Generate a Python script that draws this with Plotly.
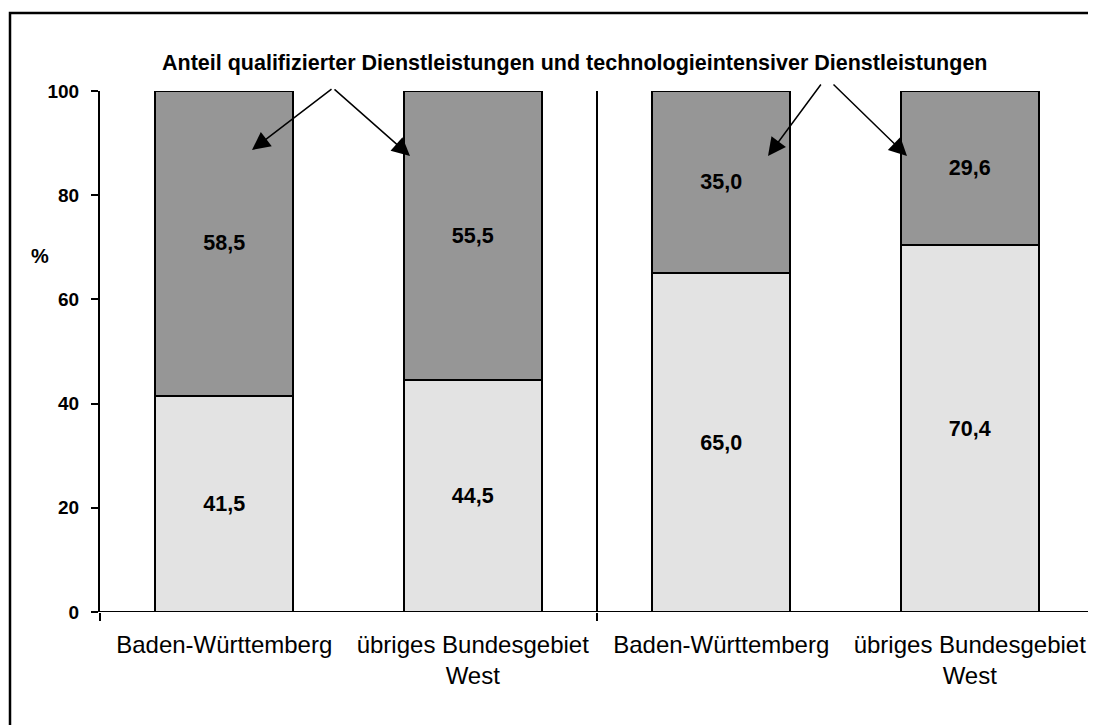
import plotly.graph_objects as go

categories = ["Baden-Württemberg", "übriges Bundesgebiet<br>West",
              "Baden-Württemberg", "übriges Bundesgebiet<br>West"]
lower_values = [41.5, 44.5, 65.0, 70.4]
upper_values = [58.5, 55.5, 35.0, 29.6]
y_ticks = [0, 20, 40, 60, 80, 100]
title_text = "Anteil qualifizierter Dienstleistungen und technologieintensiver Dienstleistungen"

W, H = 1096, 725
OFF = 8  # page body margin
L, R, T, B = 100 - OFF, 10, 91 - OFF, 725 - (612 - OFF)
pw, ph = W - L - R, H - T - B

def px(x):
    return (x - OFF - L) / pw

def py(y):
    return (H - B - (y - OFF)) / ph

xs = list(range(len(categories)))
FONT = "Arial, Liberation Sans, sans-serif"

fig = go.Figure()
for vals, col in [(lower_values, "#e3e3e3"), (upper_values, "#969696")]:
    fig.add_trace(go.Bar(x=xs, y=vals, marker=dict(color=col, line=dict(color="black", width=2)),
                         width=0.555, texttemplate="%{y:.1f}", textposition="inside",
                         insidetextanchor="middle",
                         textfont=dict(family=FONT, size=21.5, color="black", weight="bold"),
                         hoverinfo="skip"))

# group separators
for xv in [1.5, 3.5]:
    fig.add_shape(type="line", xref="x", yref="y", x0=xv, x1=xv, y0=0, y1=100,
                  line=dict(color="black", width=2))

# frame around figure
fig.add_shape(type="rect", xref="paper", yref="paper", x0=px(10), x1=px(1130), y0=py(760), y1=py(13),
              line=dict(color="black", width=2.5), layer="below")

annotations = []
annotations.append(dict(text="<b>" + title_text + "</b>", xref="paper", yref="paper",
                        x=px(574), y=py(63), showarrow=False, xanchor="center", yanchor="middle",
                        font=dict(family=FONT, size=21.5, color="black")))
annotations.append(dict(text="<b>%</b>", xref="paper", yref="paper", x=px(40), y=py(256),
                        showarrow=False, xanchor="center", yanchor="middle",
                        font=dict(family=FONT, size=20, color="black")))
arrows = [((333, 88), (252, 150)), ((333, 88), (410, 156)),
          ((822, 83), (768, 156)), ((832, 83), (907, 156))]
for (tx, ty), (hx, hy) in arrows:
    annotations.append(dict(text="", xref="paper", yref="paper", x=px(hx), y=py(hy),
                            ax=tx - hx, ay=ty - hy, showarrow=True, arrowhead=2, arrowsize=2.4,
                            arrowwidth=1.5, arrowcolor="black"))

fig.update_layout(
    width=W, height=H, barmode="stack", separators=",.",
    margin=dict(l=L, r=R, t=T, b=B),
    paper_bgcolor="white", plot_bgcolor="white", showlegend=False,
    font=dict(family=FONT, color="black"),
    annotations=annotations,
    xaxis=dict(range=[-0.5, 3.5], tickmode="array", tickvals=xs, ticktext=categories,
               ticks="", showgrid=False, zeroline=False, showline=False,
               ticklabelstandoff=16,
               tickfont=dict(family=FONT, size=24, color="black"),
               minor=dict(tickmode="array", tickvals=[-0.5, 1.5, 3.5], ticks="outside",
                          ticklen=8, tickwidth=2, tickcolor="black", showgrid=False)),
    yaxis=dict(range=[0, 100], tickvals=y_ticks, ticks="outside", ticklen=7, tickwidth=2,
               tickcolor="black", showline=True, linecolor="black", linewidth=2,
               showgrid=False, zeroline=False, ticklabelstandoff=8,
               tickfont=dict(family=FONT, size=19, color="black", weight="bold")),
)
# x axis baseline
fig.add_shape(type="line", xref="paper", yref="y", x0=0, x1=1, y0=0, y1=0,
              line=dict(color="black", width=2))

fig.write_html("out.html")
